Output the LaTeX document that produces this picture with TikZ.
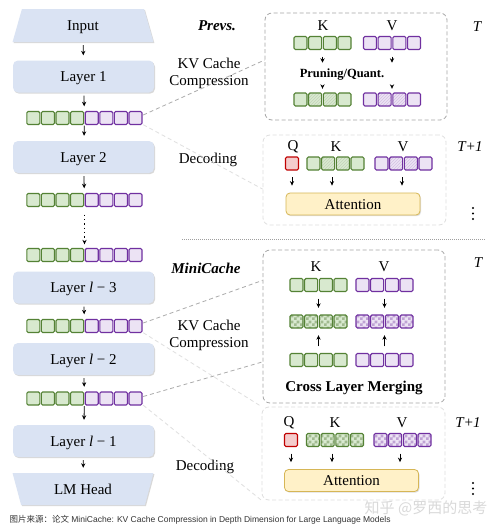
\documentclass[tikz,border=0pt]{standalone}
\usepackage{fontspec}
\setmainfont{Liberation Serif}
\newfontfamily\capfont{Liberation Sans}
\newfontfamily\cjk{Noto Sans CJK SC}
\usepackage{xcolor}
\usepackage{tikz}
\usetikzlibrary{positioning, shapes, calc, arrows.meta, patterns, shadows}
\definecolor{layerblue}{RGB}{218,227,243}
\definecolor{kgreen}{RGB}{84,130,53}
\definecolor{kfill}{RGB}{216,233,207}
\definecolor{vpurple}{RGB}{112,48,160}
\definecolor{vfill}{RGB}{236,227,244}
\definecolor{qred}{RGB}{192,0,0}
\definecolor{qfill}{RGB}{244,204,204}
\definecolor{attnfill}{RGB}{255,241,200}
\definecolor{attnline}{RGB}{214,182,86}
\pgfdeclarepatternformonly{checks}{\pgfpointorigin}{\pgfqpoint{6pt}{6pt}}{\pgfqpoint{6pt}{6pt}}{%
  \pgfpathrectangle{\pgfpointorigin}{\pgfqpoint{3pt}{3pt}}%
  \pgfpathrectangle{\pgfqpoint{3pt}{3pt}}{\pgfqpoint{3pt}{3pt}}%
  \pgfusepath{fill}}
\tikzset{
  cellbase/.style={line width=1.1pt, rounded corners=1.3pt},
  kcell/.style={cellbase, draw=kgreen, fill=kfill},
  vcell/.style={cellbase, draw=vpurple, fill=vfill},
  qcell/.style={cellbase, draw=qred, fill=qfill},
  khatch/.style={cellbase, draw=kgreen, preaction={fill=kfill}, preaction={pattern=north east lines, pattern color=kgreen!35}},
  vhatch/.style={cellbase, draw=vpurple, preaction={fill=vfill}, preaction={pattern=north east lines, pattern color=vpurple!30}},
  kcheck/.style={cellbase, draw=kgreen, preaction={fill=kfill}, preaction={pattern=checks, pattern color=kgreen!55}},
  vcheck/.style={cellbase, draw=vpurple, preaction={fill=vfill}, preaction={pattern=checks, pattern color=vpurple!45}},
  boxshadow/.style={drop shadow={shadow xshift=1pt, shadow yshift=-1.2pt, opacity=0.3}},
  layer/.style={rectangle, rounded corners=5pt, fill=layerblue, minimum width=141pt, minimum height=32pt,
    text height=10pt, text depth=0pt, boxshadow},
  arr/.style={-{Stealth[length=4.5pt,width=4.2pt]}, line width=0.8pt, shorten <=3pt, shorten >=5pt},
  parr/.style={arr, shorten <=7pt, shorten >=7pt},
  panelA/.style={draw=gray!70, dash pattern=on 4pt off 2.5pt, line width=0.8pt, rounded corners=7pt},
  panelB/.style={draw=gray!25, dash pattern=on 4pt off 2.5pt, line width=0.8pt, rounded corners=7pt},
  linkA/.style={draw=gray!65, dash pattern=on 4pt off 3pt, line width=0.8pt},
  linkB/.style={draw=gray!25, dash pattern=on 4pt off 3pt, line width=0.8pt},
  attn/.style={rectangle, rounded corners=4pt, fill=attnfill, draw=attnline, line width=0.8pt,
    minimum width=134pt, minimum height=22pt, text height=10pt, text depth=0pt,
    drop shadow={shadow xshift=1pt, shadow yshift=-1.2pt, opacity=0.25}},
  rowbox/.style={inner sep=0pt, minimum height=13pt}
}
\newcommand{\kvcell}[3]{\draw[#1] ({#2-6.5},{#3-6.5}) rectangle ++(13,13);}
\newcommand{\cellrow}[7]{%
  \node[rowbox, minimum width=58pt] (#1) at (#2,#3) {};
  \kvcell{#4}{#2-22}{#3}\kvcell{#5}{#2-7.33}{#3}\kvcell{#6}{#2+7.33}{#3}\kvcell{#7}{#2+22}{#3}}

\begin{document}
\begin{tikzpicture}[x=1pt, y=-1pt, font=\fontsize{15}{17}\selectfont]
\fill[white] (0,0) rectangle (500,530);

\node[trapezium, trapezium angle=80, trapezium stretches=true, fill=layerblue, minimum width=141pt, minimum height=33pt,
  text height=10pt, text depth=0pt, boxshadow] (in) at (83,25.5) {Input};
\node[layer] (l1) at (83.5,76.5) {Layer 1};
\node[layer] (l2) at (83.5,157) {Layer 2};
\node[layer] (l3) at (83.5,287.5) {Layer \textit{l} − 3};
\node[layer] (l4) at (83.5,359) {Layer \textit{l} − 2};
\node[layer] (l5) at (83.5,441) {Layer \textit{l} − 1};
\node[trapezium, trapezium angle=75, trapezium stretches=true, shape border rotate=180, fill=layerblue, minimum width=141pt, minimum height=32pt,
  text height=10pt, text depth=0pt, boxshadow] (lm) at (83,489) {LM Head};

\foreach \r/\y in {r1/118, r2/200, r3/255, r4/326, r5/398.5}{
  \node[rowbox, minimum width=117pt] (\r) at (84.5,\y) {};
  \foreach \i in {0,...,3} {\kvcell{kcell}{33.3+14.6*\i}{\y}}
  \foreach \i in {4,...,7} {\kvcell{vcell}{33.3+14.6*\i}{\y}}
}

\draw[arr] (in) -- (l1);
\draw[arr] (l1) -- (r1);
\draw[arr, shorten <=1pt] (r1) -- (l2);
\draw[arr] (l2) -- (r2);
\draw[arr, dash pattern=on 1.3pt off 3pt, line width=1.3pt, shorten <=8pt, shorten >=4pt] (r2) -- (r3);
\draw[arr] (l3) -- (r4);
\draw[arr] (l4) -- (r5);
\draw[arr, shorten <=1pt] (r5) -- (l5);
\draw[arr] (l5) -- (lm);

\node[font=\fontsize{15}{17}\bfseries\itshape] (prevs) at (217,26) {Prevs.};
\node[align=center] (kvc1) at (209,73) {KV Cache\\Compression};
\node (dec1) at (208,160) {Decoding};
\node[font=\fontsize{15}{17}\bfseries\itshape] (mini) at (206,268) {MiniCache};
\node[align=center] (kvc2) at (209,335) {KV Cache\\Compression};
\node (dec2) at (205,467) {Decoding};

\coordinate (sepL) at (182,239);
\coordinate (sepR) at (485,239);
\draw[gray!75, line width=0.9pt, dash pattern=on 1pt off 1pt] (sepL) -- (sepR);

\node[panelA, minimum width=182pt, minimum height=107pt] (p1) at (356,66.5) {};
\node[panelB, minimum width=183pt, minimum height=90pt] (p2) at (354.5,180) {};
\node[panelA, minimum width=182pt, minimum height=153pt] (p3) at (354,326.5) {};
\node[panelB, minimum width=183pt, minimum height=93pt] (p4) at (353.5,453.5) {};

\draw[linkA] ($(r1.east)+(0,-3)$) -- ($(p1.north west)!0.44!(p1.south west)$);
\draw[linkB] (r1.south east) -- ($(p2.north west)!0.6!(p2.south west)$);
\draw[linkA] ($(r4.east)+(0,-3)$) -- ($(p3.north west)!0.2!(p3.south west)$);
\draw[linkB] (r4.south east) -- (p4.north west);
\draw[linkA] ($(r5.east)+(0,-2)$) -- ($(p3.north west)!0.73!(p3.south west)$);
\draw[linkB] (r5.south east) -- (p4.south west);

% previous methods: compression at T
\node (k1l) at (323,26) {K};
\node (v1l) at (392,26) {V};
\cellrow{k1a}{322.5}{43}{kcell}{kcell}{kcell}{kcell}
\cellrow{v1a}{392}{43}{vcell}{vcell}{vcell}{vcell}
\node[font=\fontsize{12.5}{14}\bfseries] (pq) at (342,75) {Pruning/Quant.};
\cellrow{k1b}{322.5}{99.5}{kcell}{khatch}{khatch}{kcell}
\cellrow{v1b}{392}{99.5}{vcell}{vhatch}{vhatch}{vcell}
\draw[arr, shorten <=7pt, shorten >=3pt] (k1a) -- (k1a |- pq.north);
\draw[arr, shorten <=7pt, shorten >=3pt] (v1a) -- (v1a |- pq.north);
\draw[arr, shorten <=3pt, shorten >=4pt] (k1a |- pq.south) -- (k1b);
\draw[arr, shorten <=3pt, shorten >=4pt] (v1a |- pq.south) -- (v1b);
\node[font=\fontsize{15}{17}\itshape] (t1) at (477,27) {T};

% previous methods: decoding at T+1
\node (q2l) at (293,147) {Q};
\node (k2l) at (336,147) {K};
\node (v2l) at (403,147) {V};
\node[rowbox, minimum width=13pt] (q2) at (292,163.5) {};
\kvcell{qcell}{292}{163.5}
\cellrow{k2}{335.5}{163.5}{kcell}{khatch}{khatch}{kcell}
\cellrow{v2}{403.5}{163.5}{vcell}{vhatch}{vhatch}{vcell}
\node[attn] (a2) at (353,204) {Attention};
\draw[parr] (q2) -- (q2 |- a2.north);
\draw[parr] ($(k2.south)+(-3.5,0)$) -- ($(k2.south |- a2.north)+(-3.5,0)$);
\draw[parr] ($(v2.south)+(-1.5,0)$) -- ($(v2.south |- a2.north)+(-1.5,0)$);
\node (t2) at (470,147) {\textit{T}+\textit{1}};
\foreach \d in {0,1,2} \fill (473,{208+\d*5.5}) circle (1.2pt);

% MiniCache: cross layer merging at T
\node (k3l) at (316,267) {K};
\node (v3l) at (384,267) {V};
\cellrow{k3a}{318.5}{285}{kcell}{kcell}{kcell}{kcell}
\cellrow{v3a}{384.5}{285}{vcell}{vcell}{vcell}{vcell}
\cellrow{k3m}{318.5}{321.5}{kcheck}{kcheck}{kcheck}{kcheck}
\cellrow{v3m}{384.5}{321.5}{vcheck}{vcheck}{vcheck}{vcheck}
\cellrow{k3b}{318.5}{360}{kcell}{kcell}{kcell}{kcell}
\cellrow{v3b}{384.5}{360}{vcell}{vcell}{vcell}{vcell}
\draw[parr] (k3a) -- (k3m);
\draw[parr] (v3a) -- (v3m);
\draw[parr] (k3b) -- (k3m);
\draw[parr] (v3b) -- (v3m);
\node[font=\fontsize{15}{17}\bfseries] (clm) at (354,388) {Cross Layer Merging};
\node[font=\fontsize{15}{17}\itshape] (t3) at (478,263) {T};

% MiniCache: decoding at T+1
\node (q4l) at (289,423) {Q};
\node (k4l) at (335,423) {K};
\node (v4l) at (402,423) {V};
\node[rowbox, minimum width=13pt] (q4) at (291,440) {};
\kvcell{qcell}{291}{440}
\cellrow{k4}{335}{440}{kcheck}{kcheck}{kcheck}{kcheck}
\cellrow{v4}{402.5}{440}{vcheck}{vcheck}{vcheck}{vcheck}
\node[attn] (a4) at (351.5,480.5) {Attention};
\draw[parr] (q4) -- (q4 |- a4.north);
\draw[parr] ($(k4.south)+(-3,0)$) -- ($(k4.south |- a4.north)+(-3,0)$);
\draw[parr] ($(v4.south)+(-2.5,0)$) -- ($(v4.south |- a4.north)+(-2.5,0)$);
\node (t4) at (468,423) {\textit{T}+\textit{1}};
\foreach \d in {0,1,2} \fill (473,{483+\d*5.5}) circle (1.2pt);

\node[anchor=west, font=\capfont\fontsize{8.5}{10}\selectfont, text=black!80] (src) at (6,520)
  {{\cjk 图片来源：论文} MiniCache: KV Cache Compression in Depth Dimension for Large Language Models};
\node[font=\cjk\fontsize{15}{17}\selectfont, text=gray!30] (wm) at (426,508) {知乎 @罗西的思考};
\end{tikzpicture}
\end{document}
